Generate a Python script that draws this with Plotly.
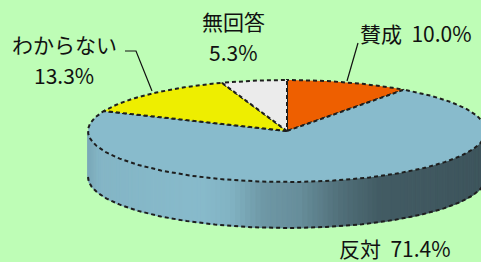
import numpy as np
import plotly.graph_objects as go

# ---- data ----
labels = ["賛成", "反対", "わからない", "無回答"]
values = [10.0, 71.4, 13.3, 5.3]
colors = ["#EE5F00", "#88BBCC", "#EEEE00", "#EBEBEB"]

# ---- geometry of the projected (3D-looking) pie ----
W, H = 481, 262
cx, cy = 287, 131
a, b = 199, 51
depth = 46
BG = "#BEFDB6"
OUT = "#1E1E1E"

shade_x = [80, 88, 100, 200, 230, 265, 300, 340, 380, 490]
shade_k = [0.90, 0.90, 0.97, 1.0, 0.96, 0.81, 0.76, 0.60, 0.49, 0.45]


def hex2rgb(h):
    h = h.lstrip("#")
    return [int(h[i:i + 2], 16) for i in (0, 2, 4)]


def shaded(col, x):
    k = float(np.interp(x, shade_x, shade_k))
    r, g, bb = hex2rgb(col)
    return "rgb(%d,%d,%d)" % (min(255, r * k), min(255, g * k), min(255, bb * k))


def pt(theta_deg, dy=0.0):
    t = np.radians(theta_deg)
    return cx + a * np.cos(t), cy - b * np.sin(t) + dy


total = sum(values)
fr = np.cumsum([0] + values) / total
starts = 90 - 360 * fr[:-1]
ends = 90 - 360 * fr[1:]

fig = go.Figure()

# ---- side walls (front half) ----
for i, (s, e) in enumerate(zip(starts, ends)):
    lo, hi = e, s
    for shift in (0, -360, 360):
        l2, h2 = max(lo + shift, -180), min(hi + shift, 0)
        if h2 > l2:
            n = max(2, int((h2 - l2) / 1.5))
            ts = np.linspace(l2, h2, n + 1)
            for t0, t1 in zip(ts[:-1], ts[1:]):
                x0, y0 = pt(t0)
                x1, y1 = pt(t1)
                xm = (x0 + x1) / 2
                c = shaded(colors[i], xm)
                fig.add_trace(go.Scatter(
                    x=[x0, x1, x1, x0, x0], y=[y0, y1, y1 + depth, y0 + depth, y0],
                    mode="lines", fill="toself", fillcolor=c,
                    line=dict(color=c, width=1), hoverinfo="skip", showlegend=False))

DASH = dict(color=OUT, width=2, dash="4px,3px")

# bottom edge of the side
tb = np.linspace(-180, 0, 200)
bx = [pt(t, depth)[0] for t in tb]
by = [pt(t, depth)[1] for t in tb]
fig.add_trace(go.Scatter(x=bx, y=by, mode="lines", line=DASH,
                         hoverinfo="skip", showlegend=False))

# ---- top faces ----
for i, (s, e) in enumerate(zip(starts, ends)):
    ts = np.linspace(s, e, max(3, int(abs(s - e)) + 2))
    xs = [cx] + [pt(t)[0] for t in ts] + [cx]
    ys = [cy] + [pt(t)[1] for t in ts] + [cy]
    fig.add_trace(go.Scatter(x=xs, y=ys, mode="lines", fill="toself",
                             fillcolor=colors[i], line=DASH,
                             hoverinfo="skip", showlegend=False))

# ---- labels ----
FONT = "Noto Sans CJK JP, sans-serif"
pct = ["%.1f%%" % v for v in values]
ann = [
    (416, 33, f"{labels[0]}  {pct[0]}"),
    (395, 248, f"{labels[1]}  {pct[1]}"),
    (64, 44, labels[2]),
    (64, 75, pct[2]),
    (233, 21, labels[3]),
    (233, 52, pct[3]),
]
for x, y, t in ann:
    fig.add_annotation(x=x, y=y, text=t, showarrow=False,
                       font=dict(family=FONT, size=21, color="#111111"),
                       xanchor="center", yanchor="middle")

# leader lines
fig.add_trace(go.Scatter(x=[358, 347], y=[43, 81], mode="lines",
                         line=dict(color="#111111", width=1.2),
                         hoverinfo="skip", showlegend=False))
fig.add_trace(go.Scatter(x=[125, 136, 152], y=[51, 51, 91], mode="lines",
                         line=dict(color="#111111", width=1.2),
                         hoverinfo="skip", showlegend=False))

fig.update_layout(
    width=W, height=H, autosize=False,
    margin=dict(l=0, r=0, t=0, b=0),
    paper_bgcolor=BG, plot_bgcolor=BG,
    xaxis=dict(range=[0, W], visible=False, fixedrange=True),
    yaxis=dict(range=[H, 0], visible=False, fixedrange=True),
    showlegend=False,
)

fig.write_html("out.html", config={"displayModeBar": False},
               post_script="document.body.style.margin='0';"
                           "document.body.style.background='%s';" % BG)
